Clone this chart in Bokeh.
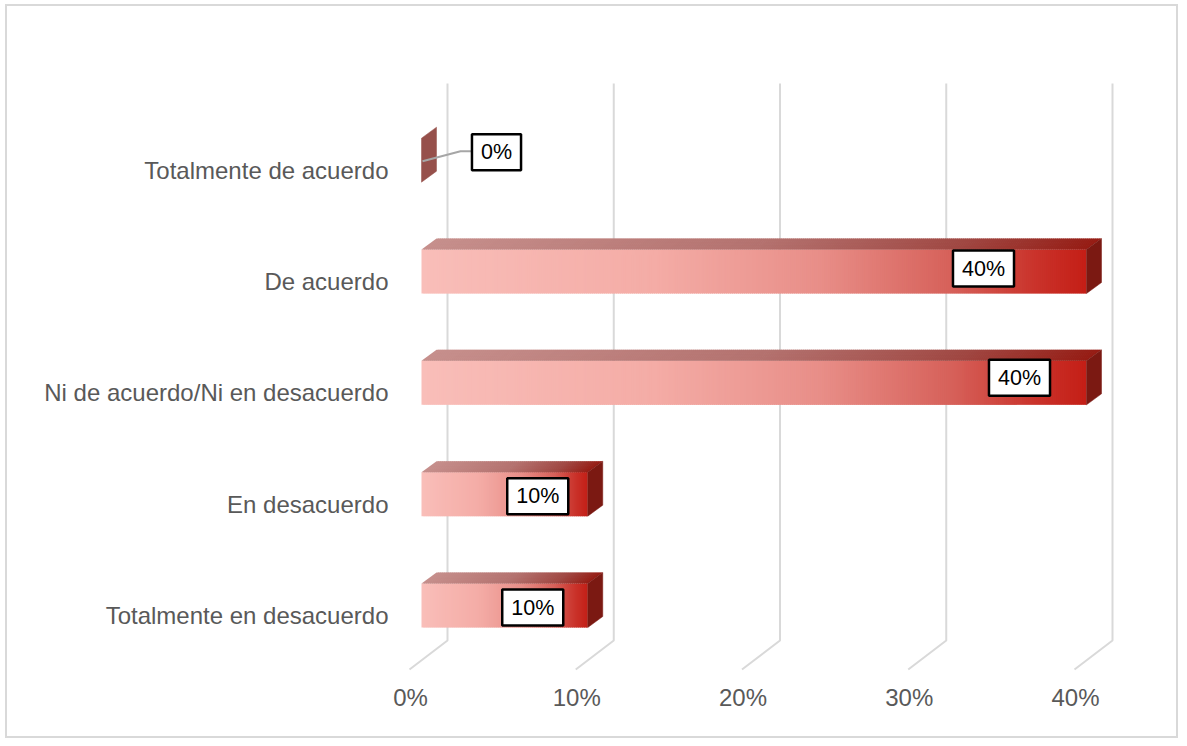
import numpy as np
from bokeh.plotting import figure
from bokeh.models import Range1d, LinearAxis, FixedTicker, ColumnDataSource
from bokeh.embed import file_html
from bokeh.resources import INLINE
from bokeh.core.properties import value

# ---------------- data ----------------
categories = ["Totalmente en desacuerdo", "En desacuerdo",
              "Ni de acuerdo/Ni en desacuerdo", "De acuerdo", "Totalmente de acuerdo"]
percentages = [10, 10, 40, 40, 0]
data_labels = ["10%", "10%", "40%", "40%", "0%"]
x_ticks = [0, 10, 20, 30, 40]
x_tick_labels = ["0%", "10%", "20%", "30%", "40%"]

# label nudges in screen px (layout only)
label_dx = [-55, -50, -67, -103, 75]
label_dy = [2, 2, -5, -3, -8]

# ---------------- geometry (screen px) ----------------
OX, OY = 7, 6            # canvas origin on the page
W, H = 1173, 734
FL, FR, FT, FB = 400, 1160, 60, 675   # frame on page
X0PX, XS = 421, 16.625   # page px of 0 %, px per 1 %
Y0PX, YS = 605, 111.33   # page px of first category, px per category

def xd(px):
    return (px - X0PX) / XS

def yd(px):
    return (Y0PX - px) / YS

x_range = Range1d(xd(FL), xd(FR))
y_range = Range1d(yd(FB), yd(FT))

p = figure(width=W, height=H, x_range=x_range, y_range=y_range,
           x_axis_location=None, y_axis_location=None,
           output_backend="svg", toolbar_location=None,
           min_border_left=FL - OX, min_border_right=(OX + W) - FR,
           min_border_top=FT - OY, min_border_bottom=(OY + H) - FB)
p.outline_line_color = None
p.background_fill_color = "white"
p.border_fill_color = "white"
p.xgrid.visible = False
p.ygrid.visible = False
p.margin = (4, 0, 0, 5)
p.styles = {"border": "2px solid #D9D9D9"}

# shifted ranges for axis labels (floor front / label baseline)
p.extra_x_ranges = {"floor": Range1d(x_range.start + 11 / XS, x_range.end + 11 / XS)}
p.extra_y_ranges = {"lab": Range1d(y_range.start + 10 / YS, y_range.end + 10 / YS)}

FONT = "Liberation Sans"
xa = LinearAxis(x_range_name="floor", ticker=FixedTicker(ticks=x_ticks))
xa.major_label_overrides = {t: l for t, l in zip(x_ticks, x_tick_labels)}
ya = LinearAxis(y_range_name="lab", ticker=FixedTicker(ticks=list(range(len(categories)))))
ya.major_label_overrides = {i: c for i, c in enumerate(categories)}
for ax, so in ((xa, 8), (ya, 12)):
    ax.axis_line_color = None
    ax.major_tick_line_color = None
    ax.minor_tick_line_color = None
    ax.major_tick_out = 0
    ax.major_tick_in = 0
    ax.minor_tick_out = 0
    ax.major_label_standoff = so
    ax.major_label_text_font = FONT
    ax.major_label_text_font_size = "24px"
    ax.major_label_text_color = "#595959"
p.add_layout(xa, "below")
p.add_layout(ya, "left")

# ---------------- gridlines (back wall + floor diagonals) ----------------
back_dx = 26 / XS
wall_bot, wall_top = yd(640), yd(83)
floor_dx = -12 / XS
floor_y = yd(669)
gx, gy = [], []
for t in x_ticks:
    gx.append([t + floor_dx, t + back_dx, t + back_dx])
    gy.append([floor_y, wall_bot, wall_top])
p.multi_line(gx, gy, line_color="#D9D9D9", line_width=2)

# ---------------- 3D gradient bars ----------------
front_stops = [(0.0, (249, 190, 185)), (0.35, (244, 172, 166)), (0.6, (232, 142, 136)),
               (0.8, (214, 96, 89)), (0.92, (202, 52, 44)), (1.0, (196, 30, 22))]
top_stops = [(0.0, (198, 143, 140)), (0.5, (180, 114, 111)), (0.8, (160, 72, 67)),
             (1.0, (150, 28, 20))]

def grad(stops, t):
    for (t0, c0), (t1, c1) in zip(stops[:-1], stops[1:]):
        if t <= t1:
            f = (t - t0) / (t1 - t0) if t1 > t0 else 0
            c = [int(round(a + (b - a) * f)) for a, b in zip(c0, c1)]
            return "#%02x%02x%02x" % tuple(c)
    return "#%02x%02x%02x" % stops[-1][1]

half = 22 / YS
ddx, ddy = 15 / XS, 11 / YS
fl, fr, fb, ft, fc = [], [], [], [], []
txs, tys, tc = [], [], []
sxs, sys_, sc = [], [], []
for r, v in enumerate(percentages):
    if v > 0:
        N = max(20, int(v * XS / 2))
        edges = np.linspace(0, v, N + 1)
        step = v / N
        for i in range(N):
            tm = (i + 0.5) / N
            x0 = edges[i]
            x1 = min(v, edges[i + 1] + step * 0.6)
            fl.append(x0); fr.append(x1)
            fb.append(r - half); ft.append(r + half)
            fc.append(grad(front_stops, tm))
            txs.append([x0, x1, x1 + ddx, x0 + ddx])
            tys.append([r + half, r + half, r + half + ddy, r + half + ddy])
            tc.append(grad(top_stops, tm))
    sxs.append([v, v + ddx, v + ddx, v])
    sys_.append([r - half, r - half + ddy, r + half + ddy, r + half])
    sc.append("#7b1912" if v > 0 else "#96504b")

p.quad(left=fl, right=fr, bottom=fb, top=ft, fill_color=fc, line_color=None)
p.patches(txs, tys, fill_color=tc, line_color=None)
p.patches(sxs, sys_, fill_color=sc, line_color=sc, line_width=0.5)

# leader line for labels placed outside the bar
for r, v in enumerate(percentages):
    if v == 0:
        p.line([v + 1 / XS, v + 39 / XS, v + 51 / XS],
               [r - 1 / YS, r + 9 / YS, r + 9 / YS],
               line_color="#A6A6A6", line_width=2)

# ---------------- data labels ----------------
src = ColumnDataSource(dict(x=percentages, y=list(range(len(categories))),
                            text=data_labels, dx=label_dx, dy=label_dy))
p.text(x="x", y="y", text="text", x_offset="dx", y_offset="dy", source=src,
       text_align="center", text_baseline="middle",
       text_font=value(FONT), text_font_size="21.5px", text_color="black",
       background_fill_color="white", border_line_color="black",
       border_line_width=2.5, padding=(9, 6))

open("out.html", "w").write(file_html(p, INLINE))
